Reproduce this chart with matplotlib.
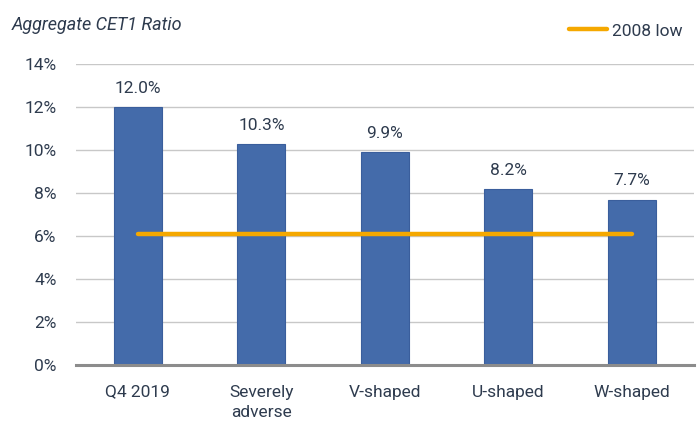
import matplotlib
matplotlib.use("Agg")
import matplotlib.pyplot as plt
from matplotlib.lines import Line2D

# data
categories = ["Q4 2019", "Severely\nadverse", "V-shaped", "U-shaped", "W-shaped"]
cet1_ratio = [12.0, 10.3, 9.9, 8.2, 7.7]
low_2008 = [6.1, 6.1, 6.1, 6.1, 6.1]
yticks = [0, 2, 4, 6, 8, 10, 12, 14]

txt_color = "#2E3B4E"
bar_color = "#446BAA"
line_color = "#F5A800"

plt.rcParams["font.family"] = ["Roboto", "DejaVu Sans"]

fig = plt.figure(figsize=(7, 4.3), dpi=100)
ax = fig.add_axes([0.1086, 0.151, 0.8824, 0.70])

x = list(range(len(categories)))
ax.bar(x, cet1_ratio, width=0.39, color=bar_color, edgecolor="#3A5E9C",
       linewidth=0.8, zorder=2)
ax.plot(x, low_2008, color=line_color, lw=3.2, solid_capstyle="round", zorder=3)

for xi, v in zip(x, cet1_ratio):
    ax.annotate(f"{v:.1f}%", (xi, v), xytext=(0, 8), textcoords="offset points",
                ha="center", va="bottom", fontsize=12.5, color=txt_color)

ax.set_xlim(-0.5, 4.5)
ax.set_ylim(0, 14)
ax.set_yticks(yticks)
ax.set_yticklabels([f"{t}%" for t in yticks])
ax.set_xticks(x)
ax.set_xticklabels(categories, linespacing=1.45)

ax.yaxis.grid(True, color="#C8C8C8", lw=1.0, zorder=0)
ax.set_axisbelow(True)
for s in ["top", "right", "left"]:
    ax.spines[s].set_visible(False)
ax.spines["bottom"].set_color("#8C8C8C")
ax.spines["bottom"].set_linewidth(2.2)
ax.spines["bottom"].set_zorder(4)

ax.tick_params(axis="both", length=0, labelsize=12.5, labelcolor=txt_color)
ax.tick_params(axis="y", pad=14)
ax.tick_params(axis="x", pad=14)
for lbl in ax.get_xticklabels():
    lbl.set_verticalalignment("top")

fig.text(0.017, 0.942, "Aggregate CET1 Ratio", fontsize=13, style="italic",
         color=txt_color, ha="left", va="center")

handle = Line2D([0], [0], color=line_color, lw=3.2, solid_capstyle="round")
fig.legend([handle], ["2008 low"], loc="center right", bbox_to_anchor=(0.985, 0.928),
           frameon=False, fontsize=12.5, handlelength=2.2, handletextpad=0.3,
           labelcolor=txt_color, borderaxespad=0)

fig.savefig("out.png", dpi=100)
